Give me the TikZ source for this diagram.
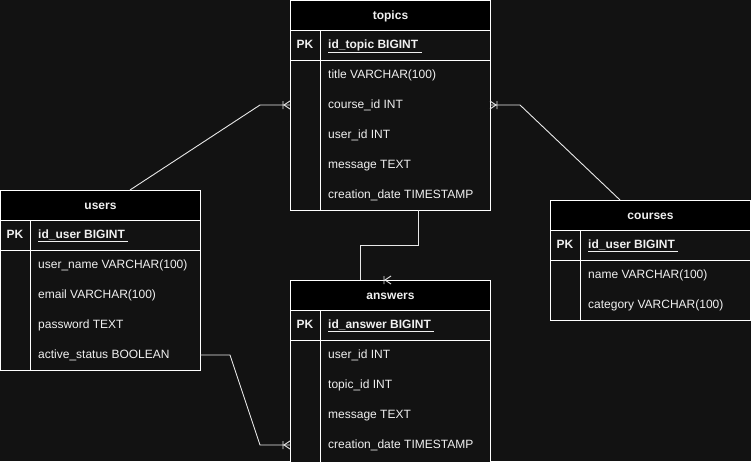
\documentclass[tikz,border=0pt]{standalone}
\usepackage{fontspec}
\setmainfont{Liberation Sans}
\definecolor{canvas}{HTML}{121212}
\definecolor{ink}{HTML}{F0F0F0}
\definecolor{rule}{HTML}{FFFFFF}
\definecolor{wire}{HTML}{E8E8E8}
\begin{document}
\begin{tikzpicture}[x=1pt,y=-1pt,
  every node/.style={font=\fontsize{12}{14}\selectfont, text=ink},
  head/.style={draw=rule, fill=black, line width=1pt, anchor=north west,
    minimum width=200pt, minimum height=30pt, inner sep=0pt,
    text height=10pt, text depth=2pt, font=\fontsize{12}{14}\selectfont\bfseries},
  body/.style={draw=rule, fill=canvas, line width=1pt, anchor=north west,
    minimum width=200pt, inner sep=0pt},
  sep/.style={draw=rule, line width=1pt},
  pk/.style={font=\fontsize{12}{14}\selectfont\bfseries, inner sep=0pt,
    text height=9pt, text depth=3pt, yshift=-0.8pt},
  field/.style={anchor=west, inner sep=0pt, text height=9pt, text depth=3pt, yshift=-0.8pt},
  keyfield/.style={field, font=\fontsize{12}{14}\selectfont\bfseries},
  link/.style={draw=wire, line width=0.9pt},
  crowfoot/.pic={\draw[link] (-6,0) -- (0,-4) (-6,0) -- (0,4) (-7,-4) -- (-7,4);}
]
% canvas
\fill[canvas] (0,0) rectangle (751,461);
\useasboundingbox (0,0) rectangle (751,461);

% ---------- users ----------
\node[body, minimum height=150pt] (users-body) at (0,220) {};
\node[head] (users-head) at (0,190) {users};
\draw[sep] (0,250) -- (200,250) (30,220) -- (30,370);
\node[pk] (users-pk) at (15,235) {PK};
\node[keyfield] (users-id) at (38,235) {\underline{id\_user BIGINT\ }};
\node[field] (users-name) at (38,265) {user\_name VARCHAR(100)};
\node[field] (users-email) at (38,295) {email VARCHAR(100)};
\node[field] (users-pass) at (38,325) {password TEXT};
\node[field] (users-status) at (38,355) {active\_status BOOLEAN};

% ---------- topics ----------
\node[body, minimum height=180pt] (topics-body) at (290,30) {};
\node[head] (topics-head) at (290,0) {topics};
\draw[sep] (290,60) -- (490,60) (320,30) -- (320,210);
\node[pk] (topics-pk) at (305,45) {PK};
\node[keyfield] (topics-id) at (328,45) {\underline{id\_topic BIGINT\ }};
\node[field] (topics-title) at (328,75) {title VARCHAR(100)};
\node[field] (topics-course) at (328,105) {course\_id INT};
\node[field] (topics-user) at (328,135) {user\_id INT};
\node[field] (topics-msg) at (328,165) {message TEXT};
\node[field] (topics-date) at (328,195) {creation\_date TIMESTAMP};

% ---------- answers ----------
\node[body, minimum height=152pt] (answers-body) at (290,310) {};
\node[head] (answers-head) at (290,280) {answers};
\draw[sep] (290,340) -- (490,340) (320,310) -- (320,462);
\node[pk] (answers-pk) at (305,325) {PK};
\node[keyfield] (answers-id) at (328,325) {\underline{id\_answer BIGINT\ }};
\node[field] (answers-user) at (328,355) {user\_id INT};
\node[field] (answers-topic) at (328,385) {topic\_id INT};
\node[field] (answers-msg) at (328,415) {message TEXT};
\node[field] (answers-date) at (328,445) {creation\_date TIMESTAMP};

% ---------- courses ----------
\node[body, minimum height=90pt] (courses-body) at (550,230) {};
\node[head] (courses-head) at (550,200) {courses};
\draw[sep] (550,260) -- (750,260) (580,230) -- (580,320);
\node[pk] (courses-pk) at (565,245) {PK};
\node[keyfield] (courses-id) at (588,245) {\underline{id\_user BIGINT\ }};
\node[field] (courses-name) at (588,275) {name VARCHAR(100)};
\node[field] (courses-cat) at (588,305) {category VARCHAR(100)};

% ---------- relations ----------
\coordinate (users-out) at (130,190);
\coordinate (courses-out) at (620,200);
\coordinate (topics-out) at (418,210);
\coordinate (answers-in) at (360,280);
\coordinate (answers-mark) at (391,280);
\coordinate (topics-west) at (290,105);
\coordinate (topics-east) at (490,105);
\coordinate (users-east) at (200,355);
\coordinate (answers-west) at (290,445);

% users -> topics
\draw[link] (users-out) -- (260,105) -- (topics-west);
\pic at (topics-west) {crowfoot};
% courses -> topics
\draw[link] (courses-out) -- (520,105) -- (topics-east);
\pic[rotate=180] at (topics-east) {crowfoot};
% topics -> answers
\draw[link] (topics-out) -- (418,245) -- (360,245) -- (answers-in);
\pic at (answers-mark) {crowfoot};
% users -> answers
\draw[link] (users-east) -- (230,355) -- (260,445) -- (answers-west);
\pic at (answers-west) {crowfoot};
\end{tikzpicture}
\end{document}
